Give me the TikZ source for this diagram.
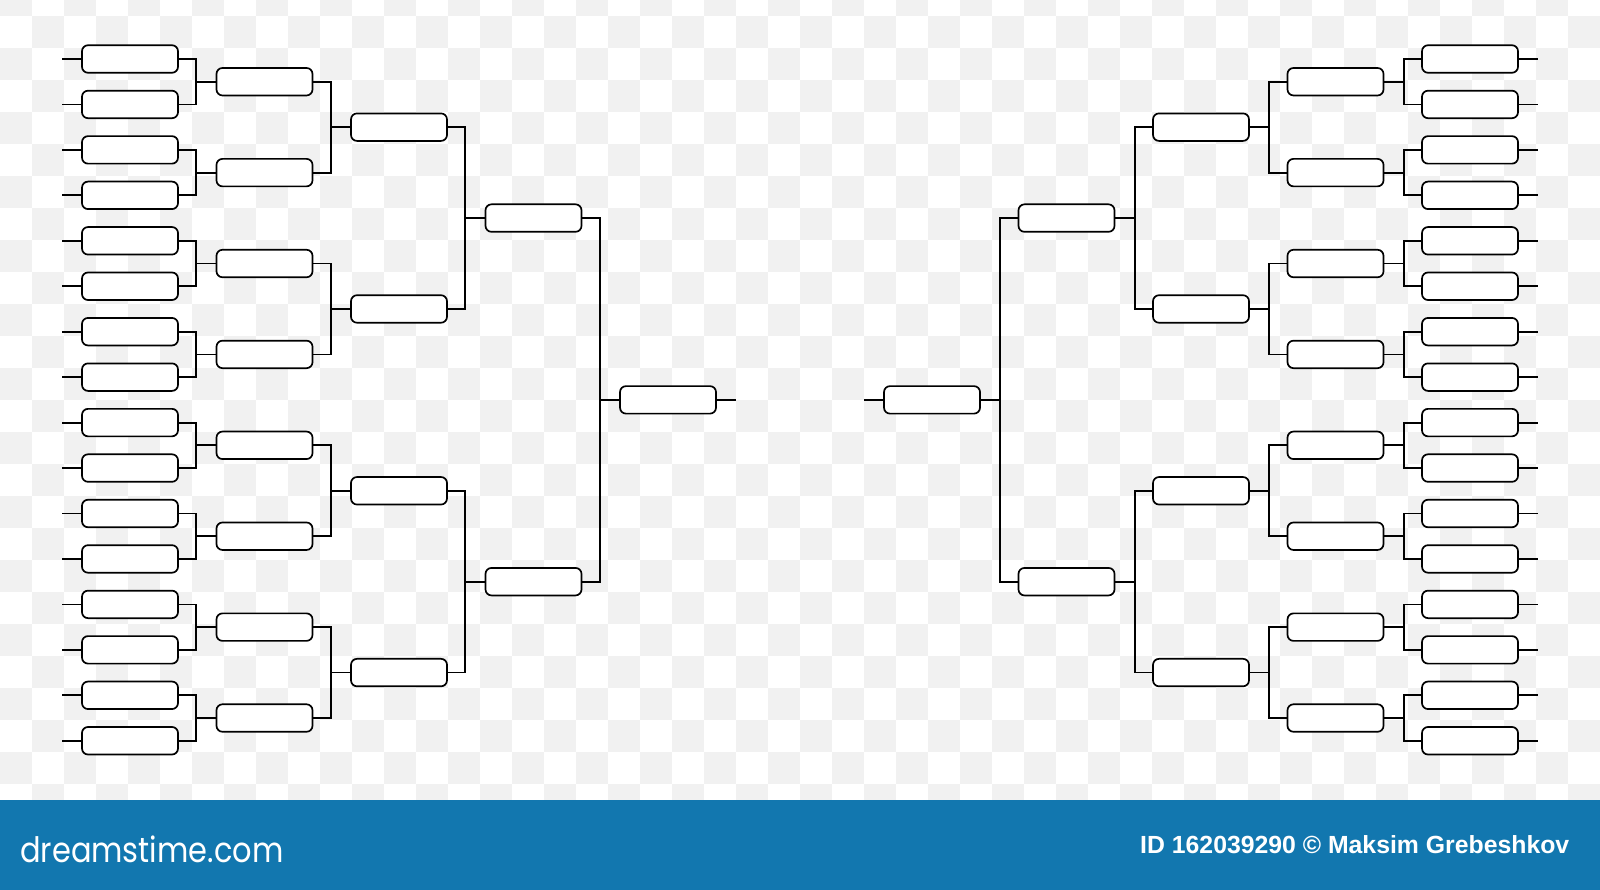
\documentclass[tikz,border=0pt]{standalone}
\usepackage{fontspec}
\newfontfamily\logofont{Poppins}
\newfontfamily\creditfont{Liberation Sans}
\definecolor{dtblue}{RGB}{18,119,175}
\definecolor{checkgray}{RGB}{241,241,241}
\tikzset{
  slot/.style={draw, fill=white, rounded corners=6pt, line width=1.7pt,
    minimum width=96pt, minimum height=27.5pt, inner sep=0pt},
  wire/.style={line width=1.8pt}
}
\begin{document}
\begin{tikzpicture}[x=1pt, y=-1pt]
  \useasboundingbox (0,0) rectangle (1600,890);
  % checkered backdrop
  \fill[white] (0,0) rectangle (1600,800);
  \begin{scope}
    \clip (0,0) rectangle (1600,800);
    \foreach \j in {0,...,25} {
      \pgfmathtruncatemacro\s{mod(\j,2)}
      \foreach \m in {0,...,25}
        \fill[checkgray] ({32*(2*\m+\s)},{32*\j-16}) rectangle ++(32,32);
    }
  \end{scope}
  \fill[dtblue] (0,800) rectangle (1600,890);

  % match slots, both halves
  \foreach \r in {1,...,5} {
    \pgfmathtruncatemacro\n{2^(5-\r)}
    \foreach \k in {1,...,\n} {
      \pgfmathsetmacro\yy{59+((\k-0.5)*2^(\r-1)-0.5)*45.45}
      \node[slot] (l\r-\k) at ({130+134.5*(\r-1)},\yy) {};
      \node[slot] (r\r-\k) at ({1470-134.5*(\r-1)},\yy) {};
    }
  }

  % entry lines
  \foreach \k in {1,...,16} {
    \draw[wire] (l1-\k.west) -- ++(-19.5,0);
    \draw[wire] (r1-\k.east) -- ++(19.5,0);
  }

  % brackets
  \foreach \r in {1,...,4} {
    \pgfmathtruncatemacro\n{2^(4-\r)}
    \pgfmathtruncatemacro\p{\r+1}
    \foreach \k in {1,...,\n} {
      \pgfmathtruncatemacro\a{2*\k-1}
      \pgfmathtruncatemacro\b{2*\k}
      \draw[wire] (l\r-\a.east) -| ([xshift=-19.5pt]l\p-\k.west) |- (l\r-\b.east)
        ([xshift=-19.5pt]l\p-\k.west) -- (l\p-\k.west);
      \draw[wire] (r\r-\a.west) -| ([xshift=19.5pt]r\p-\k.east) |- (r\r-\b.west)
        ([xshift=19.5pt]r\p-\k.east) -- (r\p-\k.east);
    }
  }
  \draw[wire] (l5-1.east) -- ++(19,0);
  \draw[wire] (r5-1.west) -- ++(-19,0);

  % footer
  \node[anchor=base west, inner sep=0pt, text=white,
    font=\logofont\fontsize{35}{35}\selectfont] (logo) at (20,862)
    {\scalebox{0.87}[1]{dreamstime.com}};
  \node[anchor=base west, inner sep=0pt, text=white,
    font=\creditfont\bfseries\fontsize{24.8}{24.8}\selectfont] (credit) at (1140,853)
    {ID 162039290 © Maksim Grebeshkov};
\end{tikzpicture}
\end{document}
